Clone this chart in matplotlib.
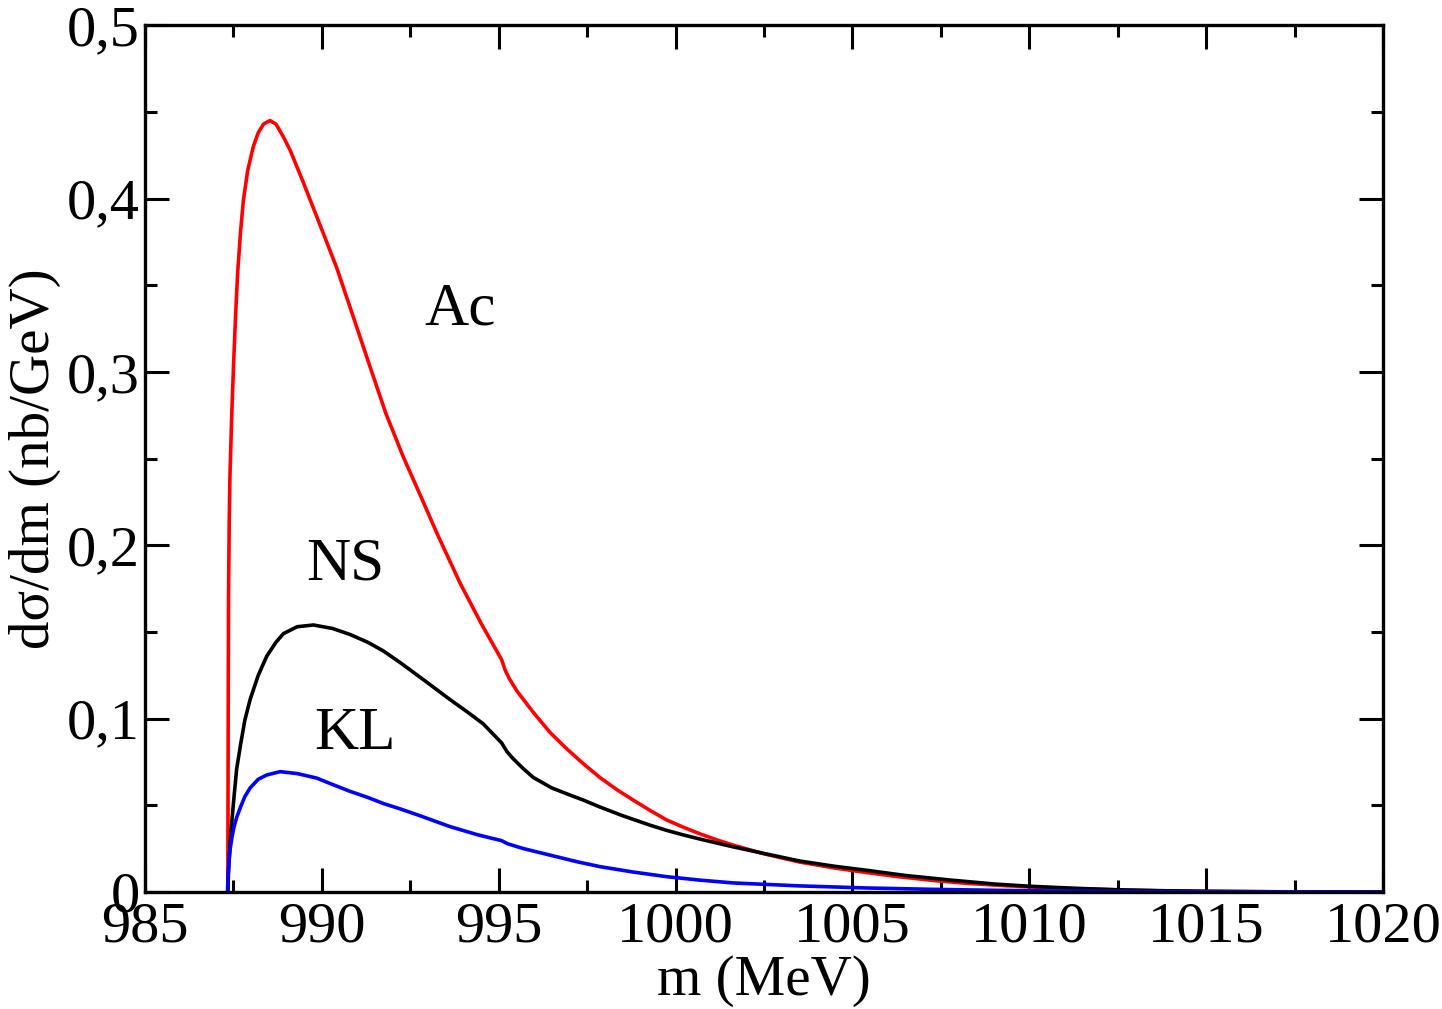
import numpy as np
import matplotlib.pyplot as plt
from matplotlib.ticker import MultipleLocator, FuncFormatter

plt.rcParams['font.family'] = ['Liberation Serif', 'DejaVu Serif']

# Ac (red)
m_ac = [987.34, 987.35, 987.36, 987.38, 987.40, 987.45, 987.50, 987.56, 987.62, 987.70,
        987.78, 987.90, 988.06, 988.20, 988.35, 988.53, 988.70, 988.90, 989.10, 989.48,
        990.00, 990.42, 990.90, 991.36, 991.80, 992.30, 992.80, 993.25, 993.91, 994.50,
        995.08, 995.18, 995.30, 995.51, 996.00, 996.45, 996.90, 997.39, 997.86, 998.34,
        998.80, 999.28, 999.75, 1000.20, 1000.69, 1001.20, 1001.63, 1002.50, 1003.52,
        1004.50, 1005.40, 1006.30, 1007.30, 1008.20, 1009.17, 1010.00, 1011.30, 1012.60,
        1013.80, 1015.00, 1017.00, 1020.00]
v_ac = [0.0, 0.10, 0.17, 0.215, 0.24, 0.275, 0.303, 0.333, 0.358, 0.381,
        0.399, 0.416, 0.430, 0.438, 0.443, 0.445, 0.443, 0.436, 0.428, 0.409,
        0.382, 0.360, 0.331, 0.303, 0.2765, 0.251, 0.228, 0.207, 0.178, 0.155,
        0.134, 0.128, 0.123, 0.116, 0.103, 0.092, 0.083, 0.074, 0.066, 0.059,
        0.053, 0.047, 0.0415, 0.0375, 0.0335, 0.0298, 0.027, 0.022, 0.0172,
        0.0138, 0.0112, 0.0088, 0.0066, 0.005, 0.0038, 0.0029, 0.0019, 0.0011,
        0.0006, 0.0003, 0.0001, 0.0]

# NS (black)
m_ns = [987.34, 987.36, 987.40, 987.45, 987.52, 987.59, 987.70, 987.82, 987.97, 988.20,
        988.44, 988.70, 988.91, 989.30, 989.76, 990.30, 990.80, 991.30, 991.74, 992.20,
        992.90, 993.62, 994.10, 994.56, 995.08, 995.23, 995.40, 995.70, 995.98, 996.50,
        997.00, 997.39, 997.86, 998.50, 999.28, 999.75, 1000.20, 1000.69, 1001.63,
        1002.50, 1003.52, 1004.50, 1005.40, 1006.50, 1007.80, 1009.00, 1010.00,
        1011.30, 1012.60, 1013.80, 1015.00, 1017.00, 1020.00]
v_ns = [0.0, 0.012, 0.026, 0.040, 0.056, 0.071, 0.085, 0.099, 0.111, 0.125,
        0.136, 0.144, 0.149, 0.153, 0.154, 0.152, 0.1485, 0.144, 0.139, 0.1325,
        0.122, 0.111, 0.104, 0.097, 0.086, 0.081, 0.077, 0.071, 0.066, 0.060,
        0.056, 0.053, 0.049, 0.044, 0.0385, 0.0355, 0.033, 0.0305, 0.026,
        0.0222, 0.0178, 0.0148, 0.0125, 0.0095, 0.0068, 0.0046, 0.0033,
        0.0021, 0.0012, 0.0007, 0.0004, 0.0001, 0.0]

# KL (blue)
m_kl = [987.33, 987.35, 987.37, 987.40, 987.46, 987.52, 987.59, 987.70, 987.82, 987.97,
        988.20, 988.44, 988.82, 989.30, 989.85, 990.30, 990.80, 991.30, 991.74, 992.20,
        992.70, 993.62, 994.40, 995.08, 995.25, 995.70, 996.50, 997.20, 997.86, 998.80,
        999.75, 1000.70, 1001.63, 1003.50, 1005.40, 1007.30, 1009.17, 1011.00, 1012.60,
        1015.00, 1020.00]
v_kl = [0.0, 0.010, 0.017, 0.024, 0.032, 0.038, 0.043, 0.049, 0.055, 0.060,
        0.065, 0.0675, 0.0694, 0.0683, 0.0657, 0.062, 0.058, 0.0545, 0.051, 0.048,
        0.0445, 0.0377, 0.033, 0.0296, 0.0278, 0.025, 0.021, 0.0175, 0.0146, 0.0115,
        0.0088, 0.0068, 0.0052, 0.0035, 0.0023, 0.0015, 0.0009, 0.0005, 0.0003,
        0.0001, 0.0]

fig = plt.figure(figsize=(14.42, 10.09), dpi=100)
ax = fig.add_axes([0.1006, 0.116, 0.8585, 0.859])

ax.plot(m_ac, v_ac, color='red', lw=2.6, solid_joinstyle='round')
ax.plot(m_ns, v_ns, color='black', lw=2.6, solid_joinstyle='round')
ax.plot(m_kl, v_kl, color='blue', lw=2.6, solid_joinstyle='round')

ax.set_xlim(985, 1020)
ax.set_ylim(0, 0.5)
ax.xaxis.set_major_locator(MultipleLocator(5))
ax.xaxis.set_minor_locator(MultipleLocator(2.5))
ax.yaxis.set_major_locator(MultipleLocator(0.1))
ax.yaxis.set_minor_locator(MultipleLocator(0.05))
ax.yaxis.set_major_formatter(FuncFormatter(lambda v, p: '0' if v == 0 else f'{v:.1f}'.replace('.', ',')))

ax.tick_params(which='both', direction='in', top=True, right=True, width=2.2, labelsize=42)
ax.tick_params(which='major', length=17)
ax.tick_params(which='minor', length=8.5)
ax.tick_params(axis='x', pad=7)
ax.tick_params(axis='y', pad=4)
for s in ax.spines.values():
    s.set_linewidth(2.4)

ax.set_xlabel('m (MeV)', fontsize=41, labelpad=1)
ax.set_ylabel('dσ/dm (nb/GeV)', fontsize=41, labelpad=4)

ax.text(993.9, 0.336, 'Ac', fontsize=44, ha='center', va='center')
ax.text(990.65, 0.189, 'NS', fontsize=44, ha='center', va='center')
ax.text(990.94, 0.091, 'KL', fontsize=44, ha='center', va='center')

fig.savefig('out.png', dpi=100)
